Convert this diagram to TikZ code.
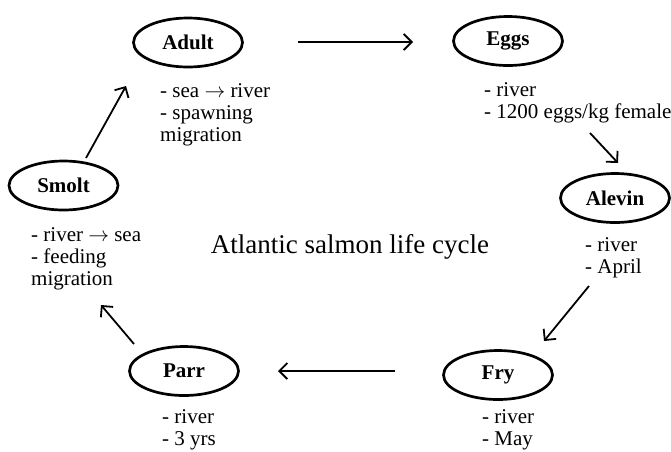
\documentclass[tikz,border=0pt]{standalone}
\usepackage{fontspec}
\setmainfont{Liberation Serif}
\usetikzlibrary{shapes.geometric,arrows.meta}
\newcommand{\myarrow}{$\rightarrow$}
\begin{document}
\begin{tikzpicture}[x=1pt,y=-1pt,
  stage/.style={ellipse,draw,line width=2.7pt,minimum width=109pt,minimum height=49pt,inner sep=0pt,font=\fontsize{21}{22}\selectfont\bfseries},
  info/.style={anchor=base west,align=left,inner sep=0pt,font=\fontsize{21}{22}\selectfont},
  arr/.style={line width=1.8pt,-{Straight Barb[length=8pt,width=16pt,line width=1.8pt]}}]
\useasboundingbox (0,0) rectangle (671,451);
\node[stage] (adult) at (188,42.5) {Adult};
\node[stage] (eggs) at (508,41) {Eggs};
\node[stage] (alevin) at (615,198) {Alevin};
\node[stage] (fry) at (498,375) {Fry};
\node[stage] (parr) at (184,371) {Parr};
\node[stage] (smolt) at (63.5,185.5) {Smolt};
% base anchor of a multi-line node lies on its last line
\node[info] (tadult) at (160,141) {- sea \myarrow{} river\\- spawning\\migration};
\node[info] (teggs) at (484,118) {- river\\- 1200 eggs/kg female};
\node[info] (talevin) at (585,273) {- river\\- April};
\node[info] (tfry) at (482,445) {- river\\- May};
\node[info] (tparr) at (162,445) {- river\\- 3 yrs};
\node[info] (tsmolt) at (31,285) {- river \myarrow{} sea\\- feeding\\migration};
\node[font=\fontsize{27}{30}\selectfont] (title) at (350,247) {Atlantic salmon life cycle};
\coordinate (a1) at (298,42); \coordinate (a2) at (413,42);
\coordinate (b1) at (590,133); \coordinate (b2) at (618,163);
\coordinate (c1) at (589,286); \coordinate (c2) at (544,341);
\coordinate (d1) at (395,371); \coordinate (d2) at (278,371);
\coordinate (e1) at (134,344); \coordinate (e2) at (101,305);
\coordinate (f1) at (86,158); \coordinate (f2) at (126,86);
\draw[arr] (a1) -- (a2);
\draw[arr] (b1) -- (b2);
\draw[arr] (c1) -- (c2);
\draw[arr] (d1) -- (d2);
\draw[arr] (e1) -- (e2);
\draw[arr] (f1) -- (f2);
\end{tikzpicture}
\end{document}
